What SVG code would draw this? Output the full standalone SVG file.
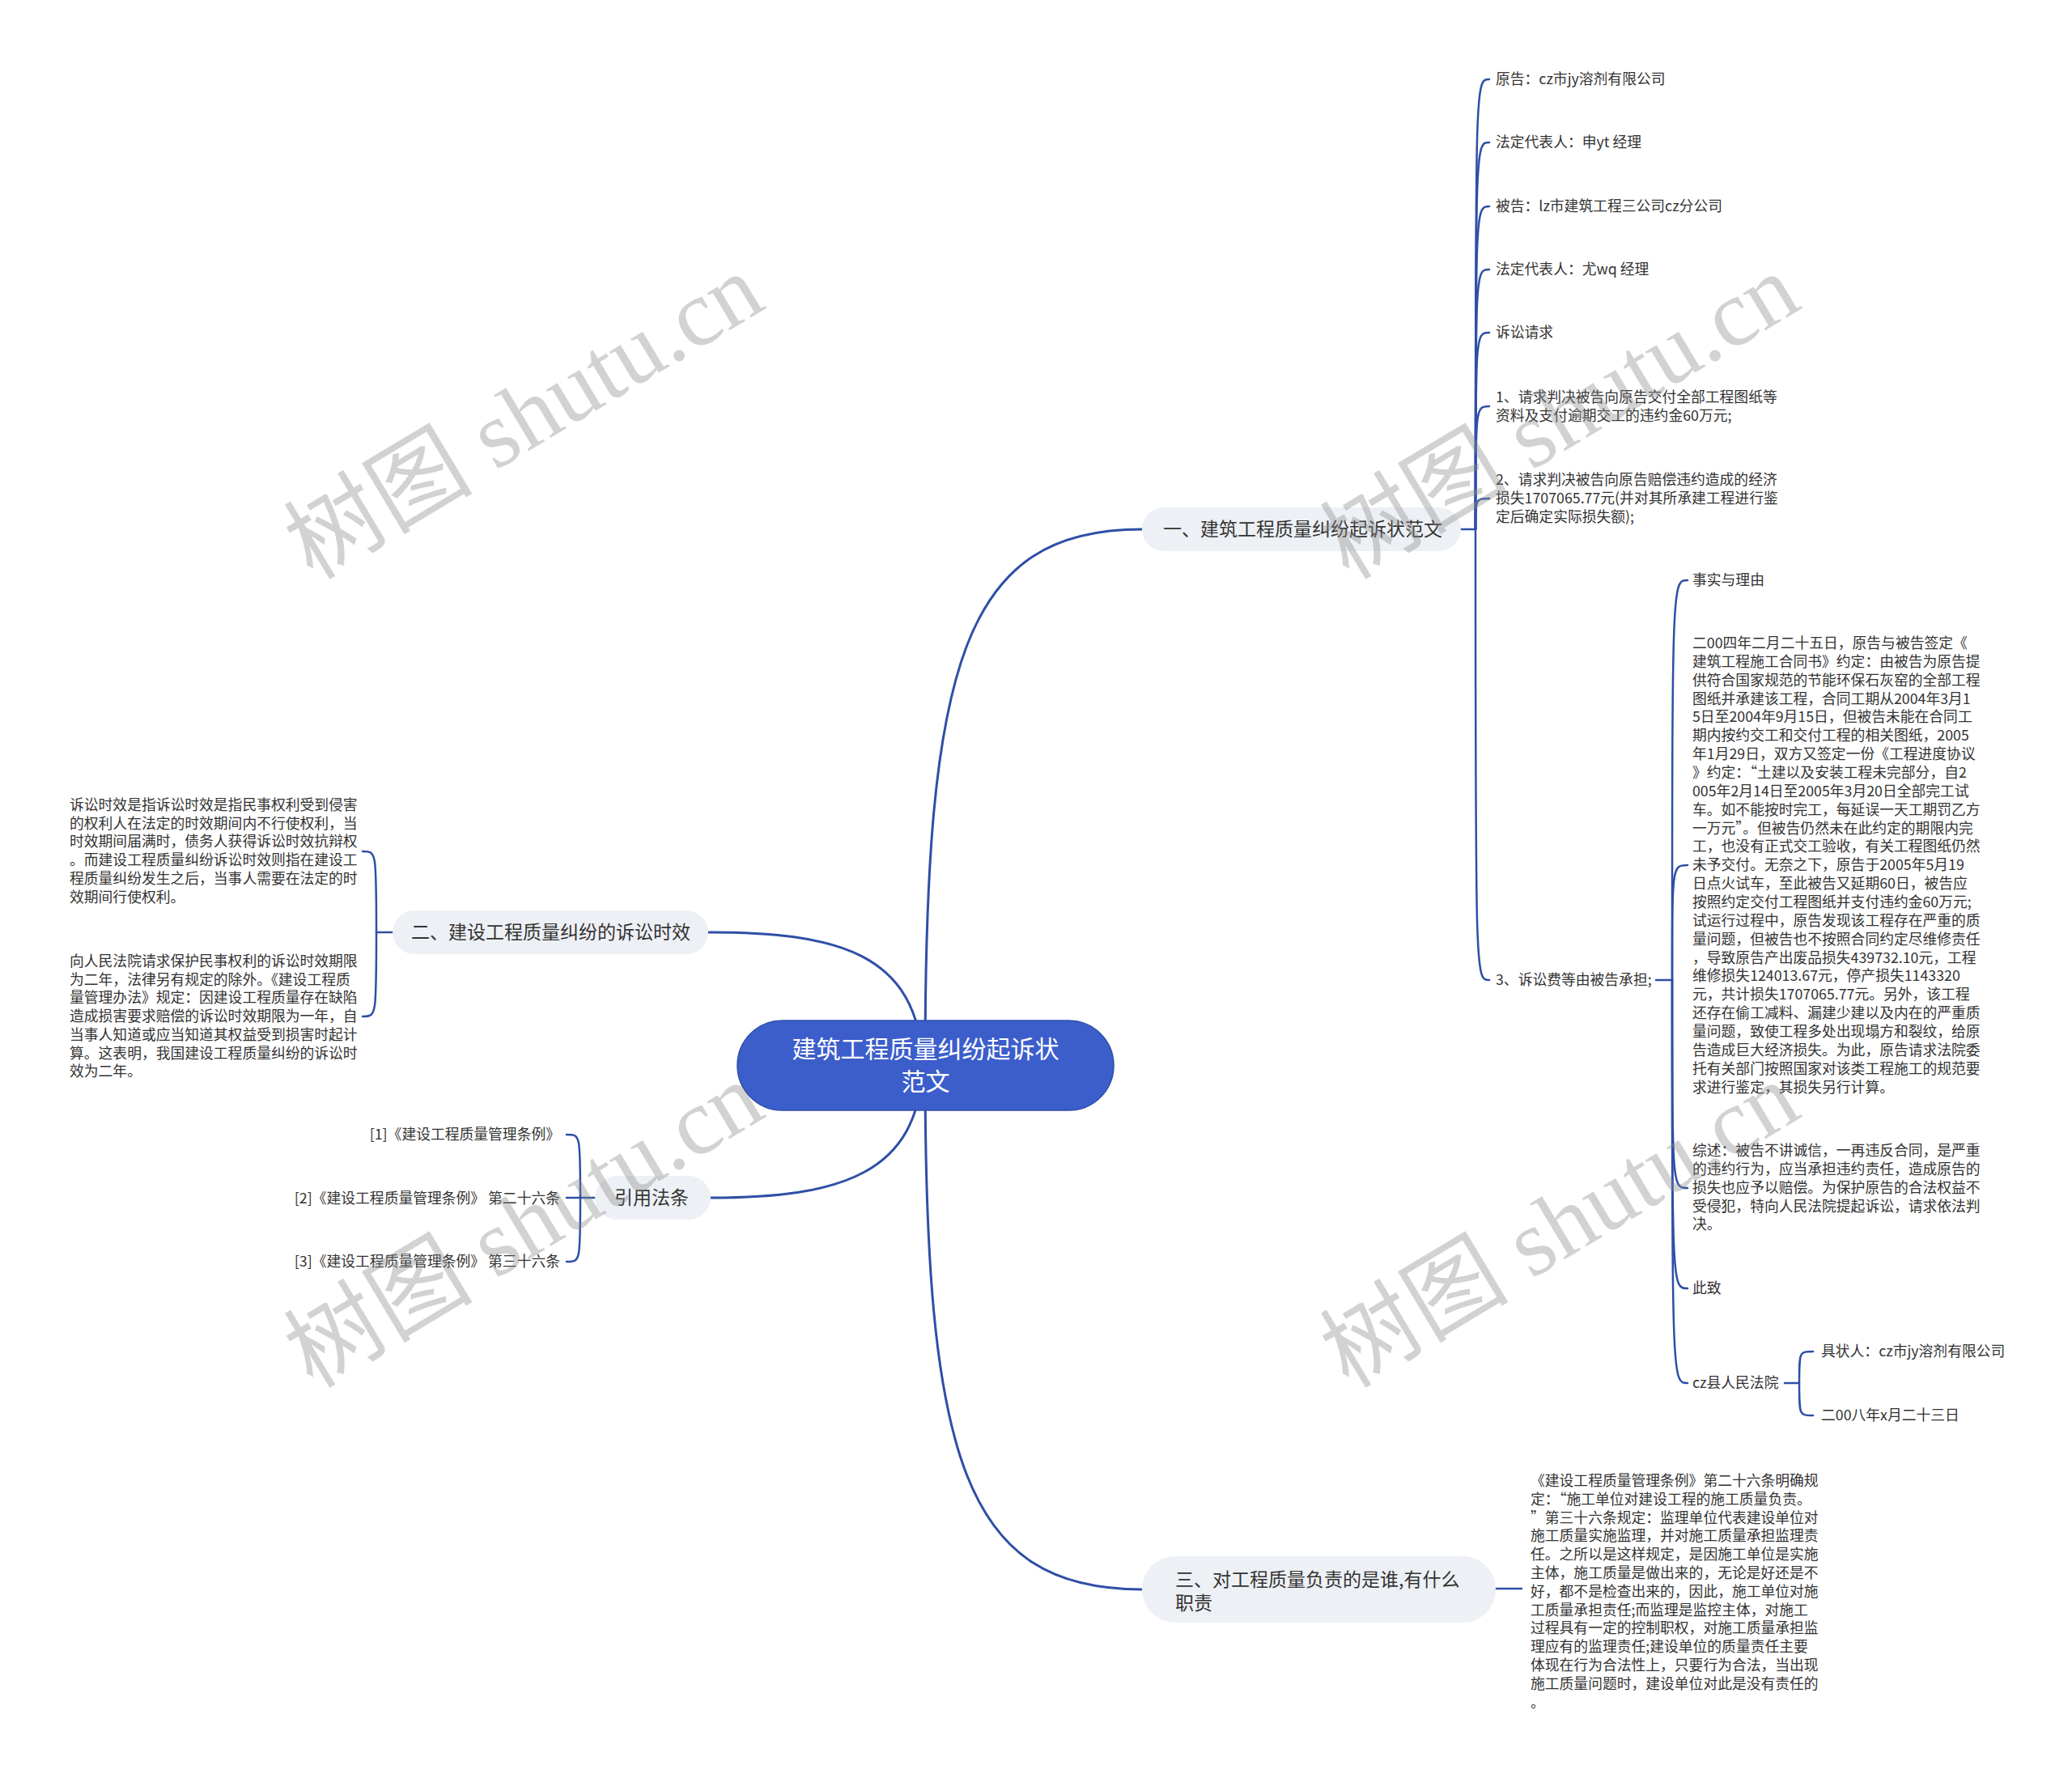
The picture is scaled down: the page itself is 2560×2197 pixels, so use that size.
<svg xmlns="http://www.w3.org/2000/svg" width="2560" height="2197" viewBox="0 0 2560 2197">
<style>
.main{fill:none;stroke:#2e4fa6;stroke-width:3;stroke-linecap:round}
.sub{fill:none;stroke:#2e4fa6;stroke-width:2.5;stroke-linecap:round}
.root{fill:#3c5ecb;stroke:#2f4fa8;stroke-width:1.5}
.br{fill:#edf0f5}
.rt{font-family:"Noto Sans CJK SC","Liberation Sans",sans-serif;font-size:30px;fill:#fff;text-anchor:middle}
.bt{font-family:"Noto Sans CJK SC","Liberation Sans",sans-serif;font-size:23px;fill:#333}
.ct{font-family:"Noto Sans CJK SC","Liberation Sans",sans-serif;font-size:17.8px;fill:#333}
.wm{font-family:"Liberation Serif","Noto Sans CJK SC",serif;font-size:117px;fill:#888;fill-opacity:0.38;text-anchor:middle}
</style>
<rect width="2560" height="2197" fill="#fff"/>
<g id="connectors">
<path class="main" d="M1143 1316 C1143 820 1190 654 1411 654"/>
<path class="main" d="M1143 1316 C1143 1800 1190 1964 1411 1964"/>
<path class="main" d="M1140 1316 C1135 1175 1030 1152 875 1152"/>
<path class="main" d="M1140 1316 C1135 1450 1040 1480 878 1480"/>
<path class="sub" d="M1805 654 L1823 654"/>
<path class="sub" d="M1823 654 C1823 98 1823 98 1840 98"/>
<path class="sub" d="M1823 654 C1823 176 1823 176 1840 176"/>
<path class="sub" d="M1823 654 C1823 255 1823 255 1840 255"/>
<path class="sub" d="M1823 654 C1823 333 1823 333 1840 333"/>
<path class="sub" d="M1823 654 C1823 411 1823 411 1840 411"/>
<path class="sub" d="M1823 654 C1823 502 1823 502 1840 502"/>
<path class="sub" d="M1823 654 C1823 616 1823 616 1840 616"/>
<path class="sub" d="M1823 654 C1823 1211 1823 1211 1840 1211"/>
<path class="sub" d="M2046 1211 L2066 1211"/>
<path class="sub" d="M2066 1211 C2066 717 2066 717 2085 717"/>
<path class="sub" d="M2066 1211 C2066 1069 2066 1069 2085 1069"/>
<path class="sub" d="M2066 1211 C2066 1468 2066 1468 2085 1468"/>
<path class="sub" d="M2066 1211 C2066 1592 2066 1592 2085 1592"/>
<path class="sub" d="M2066 1211 C2066 1709 2066 1709 2085 1709"/>
<path class="sub" d="M2205 1709 L2223 1709"/>
<path class="sub" d="M2223 1709 C2223 1670 2223 1670 2240 1670"/>
<path class="sub" d="M2223 1709 C2223 1749 2223 1749 2240 1749"/>
<path class="sub" d="M465 1152 L485 1152"/>
<path class="sub" d="M465 1152 C465 1052 465 1052 448 1052"/>
<path class="sub" d="M465 1152 C465 1256 465 1256 448 1256"/>
<path class="sub" d="M700 1480 L735 1480"/>
<path class="sub" d="M717 1480 C717 1402 717 1402 700 1402"/>
<path class="sub" d="M717 1480 C717 1559 717 1559 700 1559"/>
<path class="sub" d="M1848 1963 L1880 1963"/>
</g>
<g id="root">
<rect class="root" x="911" y="1261" width="465" height="111" rx="55.5"/>
<text class="rt" x="1143.5" y="1307">建筑工程质量纠纷起诉状</text>
<text class="rt" x="1143.5" y="1347">范文</text>
</g>
<g id="b1">
<rect class="br" x="1411" y="627" width="394" height="54" rx="27"/>
<text class="bt" x="1437" y="662">一、建筑工程质量纠纷起诉状范文</text>
</g>
<g id="b1c1"><text class="ct" x="1848" y="104">原告：cz市jy溶剂有限公司</text></g>
<g id="b1c2"><text class="ct" x="1848" y="182">法定代表人：申yt 经理</text></g>
<g id="b1c3"><text class="ct" x="1848" y="261">被告：lz市建筑工程三公司cz分公司</text></g>
<g id="b1c4"><text class="ct" x="1848" y="339">法定代表人：尤wq 经理</text></g>
<g id="b1c5"><text class="ct" x="1848" y="417">诉讼请求</text></g>
<g id="b1c6"><text class="ct" x="1848" y="497">1、请求判决被告向原告交付全部工程图纸等<tspan x="1848" y="520">资料及支付逾期交工的违约金60万元;</tspan></text></g>
<g id="b1c7"><text class="ct" x="1848" y="599">2、请求判决被告向原告赔偿违约造成的经济<tspan x="1848" y="622">损失1707065.77元(并对其所承建工程进行鉴</tspan><tspan x="1848" y="645">定后确定实际损失额);</tspan></text></g>
<g id="b1c8"><text class="ct" x="1848" y="1217">3、诉讼费等由被告承担;</text></g>
<g id="c8a"><text class="ct" x="2091" y="723">事实与理由</text></g>
<g id="c8b"><text class="ct" x="2091" y="801">二00四年二月二十五日，原告与被告签定《<tspan x="2091" dy="22.86">建筑工程施工合同书》约定：由被告为原告提</tspan><tspan x="2091" dy="22.86">供符合国家规范的节能环保石灰窑的全部工程</tspan><tspan x="2091" dy="22.86">图纸并承建该工程，合同工期从2004年3月1</tspan><tspan x="2091" dy="22.86">5日至2004年9月15日，但被告未能在合同工</tspan><tspan x="2091" dy="22.86">期内按约交工和交付工程的相关图纸，2005</tspan><tspan x="2091" dy="22.86">年1月29日，双方又签定一份《工程进度协议</tspan><tspan x="2091" dy="22.86">》约定：“土建以及安装工程未完部分，自2</tspan><tspan x="2091" dy="22.86">005年2月14日至2005年3月20日全部完工试</tspan><tspan x="2091" dy="22.86">车。如不能按时完工，每延误一天工期罚乙方</tspan><tspan x="2091" dy="22.86">一万元”。但被告仍然未在此约定的期限内完</tspan><tspan x="2091" dy="22.86">工，也没有正式交工验收，有关工程图纸仍然</tspan><tspan x="2091" dy="22.86">未予交付。无奈之下，原告于2005年5月19</tspan><tspan x="2091" dy="22.86">日点火试车，至此被告又延期60日，被告应</tspan><tspan x="2091" dy="22.86">按照约定交付工程图纸并支付违约金60万元;</tspan><tspan x="2091" dy="22.86">试运行过程中，原告发现该工程存在严重的质</tspan><tspan x="2091" dy="22.86">量问题，但被告也不按照合同约定尽维修责任</tspan><tspan x="2091" dy="22.86">，导致原告产出废品损失439732.10元，工程</tspan><tspan x="2091" dy="22.86">维修损失124013.67元，停产损失1143320</tspan><tspan x="2091" dy="22.86">元，共计损失1707065.77元。另外，该工程</tspan><tspan x="2091" dy="22.86">还存在偷工减料、漏建少建以及内在的严重质</tspan><tspan x="2091" dy="22.86">量问题，致使工程多处出现塌方和裂纹，给原</tspan><tspan x="2091" dy="22.86">告造成巨大经济损失。为此，原告请求法院委</tspan><tspan x="2091" dy="22.86">托有关部门按照国家对该类工程施工的规范要</tspan><tspan x="2091" dy="22.86">求进行鉴定，其损失另行计算。</tspan></text></g>
<g id="c8c"><text class="ct" x="2091" y="1428">综述：被告不讲诚信，一再违反合同，是严重<tspan x="2091" dy="22.86">的违约行为，应当承担违约责任，造成原告的</tspan><tspan x="2091" dy="22.86">损失也应予以赔偿。为保护原告的合法权益不</tspan><tspan x="2091" dy="22.86">受侵犯，特向人民法院提起诉讼，请求依法判</tspan><tspan x="2091" dy="22.86">决。</tspan></text></g>
<g id="c8d"><text class="ct" x="2091" y="1598">此致</text></g>
<g id="c8e"><text class="ct" x="2091" y="1715">cz县人民法院</text></g>
<g id="c8e1"><text class="ct" x="2250" y="1676">具状人：cz市jy溶剂有限公司</text></g>
<g id="c8e2"><text class="ct" x="2250" y="1755">二00八年x月二十三日</text></g>
<g id="b2">
<rect class="br" x="485" y="1125" width="390" height="54" rx="27"/>
<text class="bt" x="508" y="1160">二、建设工程质量纠纷的诉讼时效</text>
</g>
<g id="b2c1"><text class="ct" x="86" y="1001">诉讼时效是指诉讼时效是指民事权利受到侵害<tspan x="86" dy="22.7">的权利人在法定的时效期间内不行使权利，当</tspan><tspan x="86" dy="22.7">时效期间届满时，债务人获得诉讼时效抗辩权</tspan><tspan x="86" dy="22.7">。而建设工程质量纠纷诉讼时效则指在建设工</tspan><tspan x="86" dy="22.7">程质量纠纷发生之后，当事人需要在法定的时</tspan><tspan x="86" dy="22.7">效期间行使权利。</tspan></text></g>
<g id="b2c2"><text class="ct" x="86" y="1194">向人民法院请求保护民事权利的诉讼时效期限<tspan x="86" dy="22.7">为二年，法律另有规定的除外。《建设工程质</tspan><tspan x="86" dy="22.7">量管理办法》规定：因建设工程质量存在缺陷</tspan><tspan x="86" dy="22.7">造成损害要求赔偿的诉讼时效期限为一年，自</tspan><tspan x="86" dy="22.7">当事人知道或应当知道其权益受到损害时起计</tspan><tspan x="86" dy="22.7">算。这表明，我国建设工程质量纠纷的诉讼时</tspan><tspan x="86" dy="22.7">效为二年。</tspan></text></g>
<g id="b3">
<rect class="br" x="735" y="1453" width="143" height="54" rx="27"/>
<text class="bt" x="759" y="1488">引用法条</text>
</g>
<g id="b3c1"><text class="ct" x="692" y="1408" text-anchor="end">[1]《建设工程质量管理条例》</text></g>
<g id="b3c2"><text class="ct" x="692" y="1487" text-anchor="end">[2]《建设工程质量管理条例》 第二十六条</text></g>
<g id="b3c3"><text class="ct" x="692" y="1565" text-anchor="end">[3]《建设工程质量管理条例》 第三十六条</text></g>
<g id="b4">
<rect class="br" x="1411" y="1923" width="437" height="82" rx="41"/>
<text class="bt" x="1452" y="1960">三、对工程质量负责的是谁,有什么</text>
<text class="bt" x="1452" y="1989">职责</text>
</g>
<g id="b4c1"><text class="ct" x="1891" y="1836">《建设工程质量管理条例》第二十六条明确规<tspan x="1891" dy="22.8">定：“施工单位对建设工程的施工质量负责。</tspan><tspan x="1891" dy="22.8">”第三十六条规定：监理单位代表建设单位对</tspan><tspan x="1891" dy="22.8">施工质量实施监理，并对施工质量承担监理责</tspan><tspan x="1891" dy="22.8">任。之所以是这样规定，是因施工单位是实施</tspan><tspan x="1891" dy="22.8">主体，施工质量是做出来的，无论是好还是不</tspan><tspan x="1891" dy="22.8">好，都不是检查出来的，因此，施工单位对施</tspan><tspan x="1891" dy="22.8">工质量承担责任;而监理是监控主体，对施工</tspan><tspan x="1891" dy="22.8">过程具有一定的控制职权，对施工质量承担监</tspan><tspan x="1891" dy="22.8">理应有的监理责任;建设单位的质量责任主要</tspan><tspan x="1891" dy="22.8">体现在行为合法性上，只要行为合法，当出现</tspan><tspan x="1891" dy="22.8">施工质量问题时，建设单位对此是没有责任的</tspan><tspan x="1891" dy="22.8">。</tspan></text></g>
<g id="watermarks">
<text class="wm" transform="translate(648 516) rotate(-31)" y="38">树图 shutu.cn</text>
<text class="wm" transform="translate(1928 516) rotate(-31)" y="38">树图 shutu.cn</text>
<text class="wm" transform="translate(648 1515) rotate(-31)" y="38">树图 shutu.cn</text>
<text class="wm" transform="translate(1928 1515) rotate(-31)" y="38">树图 shutu.cn</text>
</g>
</svg>
